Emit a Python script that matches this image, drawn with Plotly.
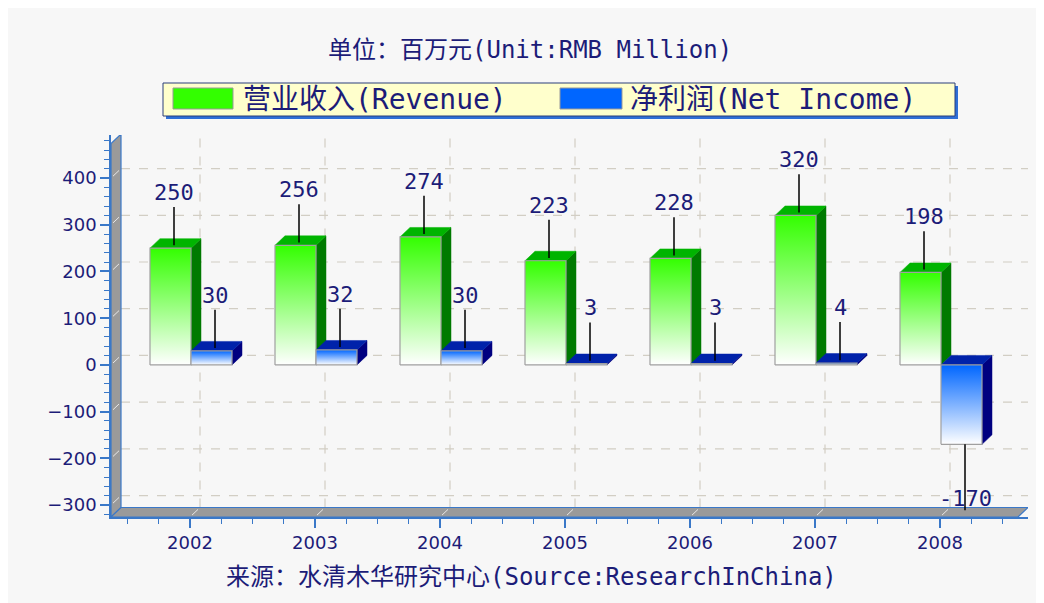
import plotly.graph_objects as go

# ---------------- data ----------------
years = ["2002", "2003", "2004", "2005", "2006", "2007", "2008"]
revenue = [250, 256, 274, 223, 228, 320, 198]
net_income = [30, 32, 30, 3, 3, 4, -170]
y_major_step = 100

title_text = "单位：百万元(Unit:RMB Million)"
source_text = "来源：水清木华研究中心(Source:ResearchInChina)"
legend_names = ["营业收入(Revenue)", "净利润(Net Income)"]

# ---------------- geometry / style ----------------
OFF = 8                                        # page body margin
W, H = 1044 - OFF, 603 - OFF
PL, PR, PT, PB = 111, 1028, 135, 517           # plot area in window pixels
X_RANGE = [-0.632, 6.704]
Y_RANGE = [-325.6, 492.2]
DX = 0.08        # depth offset (x units)
DY = 20.3        # depth offset (y units)
BAR_W = 0.328
GROUP_SHIFT = 0.008

NAVY = "#1c1c78"
TICK_BLUE = "#3a78c8"
GRID = "#d2cec4"
BG = "#f7f7f7"
MONO = "DejaVu Sans Mono, Noto Sans CJK SC"
SANS = "DejaVu Sans"

series = [
    dict(values=revenue, front="#33ff00", top="#00b400", side="#007a00", off=-BAR_W + GROUP_SHIFT),
    dict(values=net_income, front="#0066ff", top="#0022aa", side="#000080", off=GROUP_SHIFT),
]


def xp(px):
    return (px - PL) / (PR - PL)


def yp(py):
    return (PB - py) / (PB - PT)


fig = go.Figure()

# ---------------- 3D bars ----------------
for s in series:
    for i, v in enumerate(s["values"]):
        x0 = i + s["off"]
        x1 = x0 + BAR_W
        b, t = min(0, v), max(0, v)
        # side face
        fig.add_trace(go.Scatter(
            x=[x1, x1 + DX, x1 + DX, x1, x1], y=[b, b + DY, t + DY, t, b],
            mode="lines", fill="toself", fillcolor=s["side"],
            line=dict(color=s["side"], width=0.5), hoverinfo="skip", showlegend=False))
        # top face
        fig.add_trace(go.Scatter(
            x=[x0, x1, x1 + DX, x0 + DX, x0], y=[t, t, t + DY, t + DY, t],
            mode="lines", fill="toself", fillcolor=s["top"],
            line=dict(color=s["top"], width=0.5), hoverinfo="skip", showlegend=False))
        # front face with gradient
        fig.add_trace(go.Scatter(
            x=[x0, x1, x1, x0, x0], y=[b, b, t, t, b],
            mode="lines", fill="toself",
            fillgradient=dict(type="vertical", colorscale=[[0, "#ffffff"], [1, s["front"]]],
                              start=b, stop=t),
            line=dict(color="#a0a0a0", width=1.2),
            hovertemplate=f"{years[i]}: {v}<extra></extra>", showlegend=False))

# ---------------- leader lines & value labels ----------------
annotations = []
for s in series:
    lx, ly = [], []
    for i, v in enumerate(s["values"]):
        xc = i + s["off"] + BAR_W / 2 + DX * 0.35
        if v >= 0:
            y0, y1, ty = v + DY * 0.3, v + 88, v + 119
        else:
            y0, y1, ty = v, v - 141, v - 116
        lx += [xc, xc, None]
        ly += [y0, y1, None]
        annotations.append(dict(x=xc, y=ty, xref="x", yref="y", text=str(v), showarrow=False,
                                font=dict(family=MONO, size=22, color=NAVY),
                                xanchor="center", yanchor="middle"))
    fig.add_trace(go.Scatter(x=lx, y=ly, mode="lines", line=dict(color="#000000", width=1.5),
                             hoverinfo="skip", showlegend=False))

# ---------------- walls, floor, grid (decor) ----------------
shapes = []
xb = X_RANGE[0]
yb = Y_RANGE[0]
# back grid horizontal
for k in range(-3, 5):
    yv = k * y_major_step + DY
    shapes.append(dict(type="line", xref="x", yref="y", x0=xb + DX, x1=X_RANGE[1], y0=yv, y1=yv,
                       line=dict(color=GRID, width=1.2, dash="dash"), layer="below"))
# back grid vertical
for i in range(len(years)):
    shapes.append(dict(type="line", xref="x", yref="y", x0=i + DX, x1=i + DX, y0=yb + DY, y1=Y_RANGE[1],
                       line=dict(color=GRID, width=1.2, dash="dash"), layer="below"))
# left wall
wall_top = 474
shapes.append(dict(type="path", xref="x", yref="y",
                   path=f"M {xb},{yb} L {xb},{wall_top} L {xb+DX},{wall_top+DY} L {xb+DX},{yb+DY} Z",
                   fillcolor="#9a9a9a", line=dict(color=TICK_BLUE, width=1.2), layer="below"))
# floor
xr = X_RANGE[1]
shapes.append(dict(type="path", xref="x", yref="y",
                   path=f"M {xb},{yb} L {xr-DX},{yb} L {xr},{yb+DY} L {xb+DX},{yb+DY} Z",
                   fillcolor="#9a9a9a", line=dict(color=TICK_BLUE, width=1.2), layer="below"))
# small slashes on wall and floor
for k in range(-3, 5):
    yv = k * y_major_step
    shapes.append(dict(type="line", xref="x", yref="y", x0=xb + DX * 0.2, x1=xb + DX * 0.8,
                       y0=yv + DY * 0.2, y1=yv + DY * 0.8, line=dict(color="#e8e8e8", width=1), layer="below"))
for i in range(len(years)):
    shapes.append(dict(type="line", xref="x", yref="y", x0=i + DX * 0.2, x1=i + DX * 0.8,
                       y0=yb + DY * 0.2, y1=yb + DY * 0.8, line=dict(color="#e8e8e8", width=1), layer="below"))

# ---------------- manual legend ----------------
shapes.append(dict(type="rect", xref="paper", yref="paper", x0=xp(166), x1=xp(958), y0=yp(119), y1=yp(86),
                   fillcolor="#2f6fd6", line=dict(width=0)))
shapes.append(dict(type="rect", xref="paper", yref="paper", x0=xp(163), x1=xp(955), y0=yp(116), y1=yp(83),
                   fillcolor="#ffffcc", line=dict(color="#2a3f7a", width=1)))
shapes.append(dict(type="rect", xref="paper", yref="paper", x0=xp(173), x1=xp(233), y0=yp(109), y1=yp(88),
                   fillcolor=series[0]["front"], line=dict(color="#999999", width=1)))
shapes.append(dict(type="rect", xref="paper", yref="paper", x0=xp(560), x1=xp(622), y0=yp(109), y1=yp(88),
                   fillcolor=series[1]["front"], line=dict(color="#999999", width=1)))
annotations.append(dict(x=xp(241), y=yp(99), xref="paper", yref="paper", text=legend_names[0],
                        showarrow=False, xanchor="left", yanchor="middle",
                        font=dict(family=MONO, size=28, color=NAVY)))
annotations.append(dict(x=xp(628), y=yp(99), xref="paper", yref="paper", text=legend_names[1],
                        showarrow=False, xanchor="left", yanchor="middle",
                        font=dict(family=MONO, size=28, color=NAVY)))

# ---------------- title & source ----------------
annotations.append(dict(x=xp(530), y=yp(50), xref="paper", yref="paper", text=title_text,
                        showarrow=False, xanchor="center", yanchor="middle",
                        font=dict(family=MONO, size=24, color=NAVY)))
annotations.append(dict(x=xp(531), y=yp(577), xref="paper", yref="paper", text=source_text,
                        showarrow=False, xanchor="center", yanchor="middle",
                        font=dict(family=MONO, size=24, color=NAVY)))

fig.update_layout(
    width=W, height=H,
    margin=dict(l=PL - OFF, r=W - (PR - OFF), t=PT - OFF, b=H - (PB - OFF), pad=0),
    paper_bgcolor=BG, plot_bgcolor=BG,
    showlegend=False,
    shapes=shapes, annotations=annotations,
    xaxis=dict(range=X_RANGE, tickmode="array", tickvals=list(range(len(years))), ticktext=years,
               showgrid=False, zeroline=False, showline=True, linecolor=TICK_BLUE, linewidth=1.5,
               ticks="outside", ticklen=9, tickwidth=1.5, tickcolor=TICK_BLUE,
               minor=dict(tickmode="linear", tick0=0, dtick=0.25, ticks="outside", ticklen=5,
                          tickcolor=TICK_BLUE, tickwidth=1.2),
               tickfont=dict(family=SANS, size=18, color=NAVY), fixedrange=True),
    yaxis=dict(range=Y_RANGE, tickmode="linear", tick0=0, dtick=y_major_step,
               showgrid=False, zeroline=False, showline=True, linecolor=TICK_BLUE, linewidth=1.5,
               ticks="outside", ticklen=9, tickwidth=1.5, tickcolor=TICK_BLUE,
               minor=dict(tickmode="linear", tick0=0, dtick=20, ticks="outside", ticklen=5,
                          tickcolor=TICK_BLUE, tickwidth=1.2),
               tickfont=dict(family=SANS, size=18, color=NAVY), fixedrange=True),
)

fig.write_html("out.html")
